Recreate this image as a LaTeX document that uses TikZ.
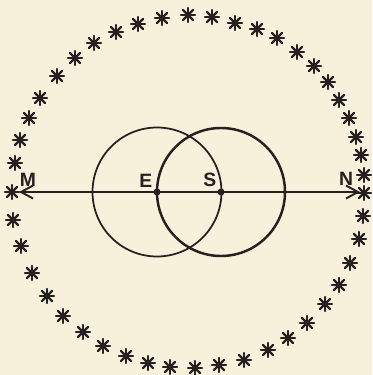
\documentclass[tikz,border=0pt]{standalone}
\usepackage{fontspec}
\setmainfont{Liberation Sans}
\usetikzlibrary{arrows.meta,positioning}
\definecolor{paper}{RGB}{247,240,218}
\definecolor{ink}{RGB}{38,33,32}

\tikzset{
    star ink/.style={ink, line width=1.35pt, line cap=round},
    twinkle/.pic={
        \foreach \a in {0,45,90,135}
            \draw[star ink] (\a:7) -- (\a+180:7);
    },
    dot/.style={circle, fill=ink, inner sep=0pt, minimum size=0.14cm},
    letter/.style={ink, font=\fontsize{11}{13}\selectfont\bfseries, inner sep=1pt}
}

\begin{document}
\begin{tikzpicture}[x=0.02cm, y=-0.02cm, >={Straight Barb[length=2.4mm,width=2.6mm]}]

    % Paper
    \fill[paper] (0,0) rectangle (372,375);
    \useasboundingbox (0,0) rectangle (372,375);

    % Ring of stars
    \foreach \x/\y in {12/192, 15/163, 20/140, 29/118, 40/98, 57/76, 75/58, 94/43,
                       116/32, 138/24, 162/18, 188/15, 212/17, 235/23, 257/29,
                       277/38, 297/52, 314/66, 328/82, 339/100, 349/118, 356/137,
                       361/155, 364/175, 364/193, 363/216, 359/239, 350/263,
                       339/285, 325/304, 307/323, 288/338, 268/350, 244/360,
                       219/365, 195/368, 170/367, 148/363, 126/356, 103/346,
                       83/332, 63/316, 47/296, 32/273, 21/246, 13/220} {
        \pic at (\x,\y) {twinkle};
    }

    % Centres
    \node[dot, label={[letter, label distance=0pt]above left:E}] (E) at (157,192) {};
    \node[dot, label={[letter, label distance=0pt]above left:S}] (S) at (221,192) {};

    % Circles through each other's centre
    \draw[ink, line width=1pt] (E) circle (64.5);
    \draw[ink, line width=1.4pt] (S) circle (64);

    % Axis
    \coordinate (west) at (19,192);
    \coordinate (east) at (360,192);
    \draw[ink, line width=1.1pt, <->] (west) -- (east);

    \node[letter] (M) at (28,180) {M};
    \node[letter] (N) at (346,179) {N};

\end{tikzpicture}
\end{document}
